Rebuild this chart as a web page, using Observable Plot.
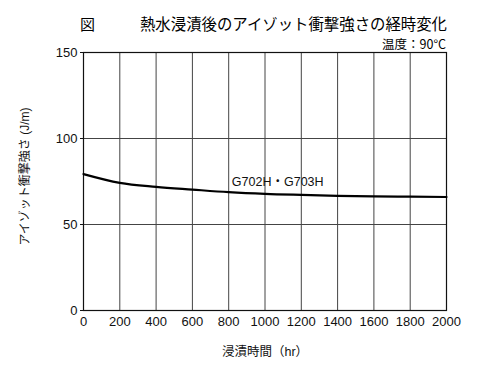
<!DOCTYPE html>
<html>
<head>
<meta charset="utf-8">
<script src="https://cdn.jsdelivr.net/npm/d3@7"></script>
<script src="https://cdn.jsdelivr.net/npm/@observablehq/plot@0.6"></script>
<style>
  body { margin: 0; background: #fff; }
  #wrap { position: relative; width: 500px; height: 366px; font-family: "Liberation Sans", "Noto Sans CJK JP", sans-serif; }
  #fig { position: absolute; left: 80px; top: 15.5px; font-size: 15px; font-family: "Noto Sans CJK JP", sans-serif; line-height: 1; }
  #title { position: absolute; right: 53px; top: 15.5px; font-size: 15.4px; font-family: "Noto Sans CJK JP", sans-serif; line-height: 1; }
  #sub { position: absolute; right: 54px; top: 38px; font-size: 12.5px; font-family: "Noto Sans CJK JP", "Liberation Sans", sans-serif; line-height: 1; }
  #chart { position: absolute; left: 0; top: 0; }
</style>
</head>
<body>
<div id="wrap">
  <div id="chart"></div>
  <div id="fig">図</div>
  <div id="title">熱水浸漬後のアイゾット衝撃強さの経時変化</div>
  <div id="sub">温度：90°C</div>
</div>
<script>
const hours = [0, 200, 400, 600, 800, 1000, 1200, 1400, 1600, 1800, 2000];
const impact = [79.3, 74.2, 71.9, 70.3, 68.8, 67.8, 67.2, 66.7, 66.4, 66.2, 66.0];
const xTicks = [0, 200, 400, 600, 800, 1000, 1200, 1400, 1600, 1800, 2000];
const yTicks = [0, 50, 100, 150];
const seriesLabel = "G702H・G703H";
const labelPos = {x: 1070, y: 74.5};
const xLabel = "浸漬時間（hr）";
const yLabel = "アイゾット衝撃強さ (J/m)";

const data = hours.map((h, i) => ({h, v: impact[i]}));

const chart = Plot.plot({
  width: 500,
  height: 366,
  marginTop: 52,
  marginLeft: 83,
  marginRight: 54,
  marginBottom: 56,
  style: {fontFamily: "'Liberation Sans', 'Noto Sans CJK JP', sans-serif", fontSize: "13px", color: "#111", background: "transparent"},
  x: {domain: [0, 2000]},
  y: {domain: [0, 150]},
  marks: [
    Plot.gridX(xTicks, {stroke: "#444", strokeOpacity: 1, strokeWidth: 1}),
    Plot.gridY(yTicks, {stroke: "#444", strokeOpacity: 1, strokeWidth: 1}),
    Plot.frame({stroke: "#111", strokeWidth: 1.2}),
    Plot.axisX({ticks: xTicks, tickFormat: d3.format("d"), tickSize: 0, tickPadding: 6, fontSize: 13, label: null}),
    Plot.axisY({ticks: yTicks, tickFormat: d3.format("d"), tickSize: 3, tickPadding: 3, fontSize: 13, label: null}),
    Plot.text([xLabel], {frameAnchor: "bottom", dy: 45, text: d => d, fontSize: 12.5, fill: "#111"}),
    Plot.text([yLabel], {frameAnchor: "left", textAnchor: "middle", dx: -58, dy: -5, rotate: -90, text: d => d, fontSize: 12, fill: "#111"}),
    Plot.line(data, {x: "h", y: "v", stroke: "#000", strokeWidth: 2.2, curve: "monotone-x"}),
    Plot.text([labelPos], {x: "x", y: "y", text: () => seriesLabel, fontSize: 12.5, fill: "#111"})
  ]
});
document.getElementById("chart").appendChild(chart);
</script>
</body>
</html>
